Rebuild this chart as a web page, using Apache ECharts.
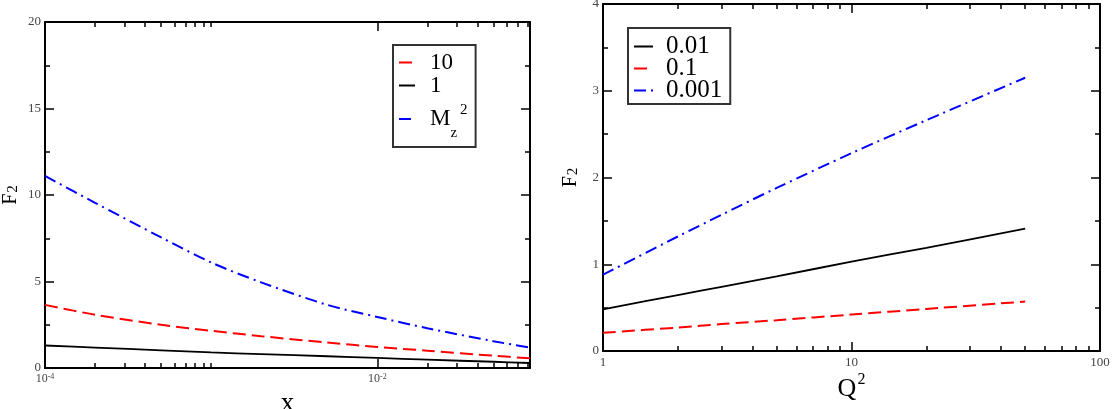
<!DOCTYPE html>
<html>
<head>
<meta charset="utf-8">
<script src="https://cdn.jsdelivr.net/npm/echarts@6/dist/echarts.min.js"></script>
<style>
	html, body { margin:0; padding:0; background:#fff; }
	#chart { width:1113px; height:409px; }
</style>
</head>
<body>
<div id="chart"></div>
<script>
const FONT = 'Liberation Serif';

// left panel: F2 against x, one curve per Q^2
const leftX = [1e-4, 2e-4, 5e-4, 1e-3, 2e-3, 5e-3, 1e-2, 2e-2, 5e-2, 0.083];
const leftQ10 = [3.65, 3.08, 2.5, 2.15, 1.84, 1.47, 1.22, 1.0, 0.71, 0.56];
const leftQ1 = [1.3, 1.18, 1.02, 0.9, 0.8, 0.68, 0.58, 0.48, 0.36, 0.29];
const leftMz = [11.1, 9.55, 7.55, 6.1, 4.95, 3.65, 2.95, 2.3, 1.55, 1.18];
const leftXMajor = [1e-4, 1e-2];
const leftXMajorExp = ['-4', '-2'];
const leftXMinor = [2e-4, 3e-4, 4e-4, 5e-4, 6e-4, 7e-4, 8e-4, 9e-4, 1e-3, 2e-2, 3e-2, 4e-2, 5e-2, 6e-2, 7e-2, 8e-2];

// right panel: F2 against Q^2, one curve per x
const rightQ2 = [1, 2, 3, 5, 10, 20, 50];
const rightX001 = [0.48, 0.645, 0.74, 0.86, 1.03, 1.19, 1.41];
const rightX01 = [0.21, 0.27, 0.31, 0.355, 0.42, 0.485, 0.57];
const rightX0001 = [0.88, 1.32, 1.57, 1.88, 2.28, 2.66, 3.15];
const rightXMajor = [1, 10, 100];
const rightXMinor = [2, 3, 4, 5, 6, 7, 8, 9, 20, 30, 40, 50, 60, 70, 80, 90];

const pairs = (xs, ys) => xs.map((x, i) => [x, ys[i]]);

const lineOn = {show:true, lineStyle:{color:'#000', width:2}};
const tickStyle = {color:'#000', width:1.5};

function logXAxes(gridIndex, min, max, major, minor, label, nameOpt){
	let base = {gridIndex:gridIndex, type:'log', logBase:10, min:min, max:max,
		splitLine:{show:false}, minorSplitLine:{show:false}};
	return [
		Object.assign({}, base, nameOpt, {position:'bottom', axisLine:lineOn, nameMoveOverlap:false,
			axisTick:{show:true, inside:true, length:9, customValues:major, lineStyle:tickStyle},
			axisLabel:label}),
		Object.assign({}, base, {position:'bottom', axisLine:{show:false},
			axisTick:{show:true, inside:true, length:5, customValues:minor, lineStyle:tickStyle},
			axisLabel:{show:false}}),
		Object.assign({}, base, {position:'top', axisLine:lineOn,
			axisTick:{show:true, inside:true, length:9, customValues:major, lineStyle:tickStyle},
			axisLabel:{show:false}}),
		Object.assign({}, base, {position:'top', axisLine:{show:false},
			axisTick:{show:true, inside:true, length:5, customValues:minor, lineStyle:tickStyle},
			axisLabel:{show:false}})
	];
}

function valueYAxes(gridIndex, max, interval, nameGap){
	let base = {gridIndex:gridIndex, type:'value', min:0, max:max, interval:interval,
		axisLine:lineOn, splitLine:{show:false},
		axisTick:{show:true, inside:true, length:9, lineStyle:tickStyle},
		minorTick:{show:true, splitNumber:2, length:5, lineStyle:tickStyle}};
	return [
		Object.assign({}, base, {position:'left', nameMoveOverlap:false,
			axisLabel:{fontFamily:FONT, fontSize:13, color:'#444', margin:4},
			name:'{f|F}{s|2}', nameLocation:'middle', nameRotate:90, nameGap:nameGap,
			nameTextStyle:{rich:{
				f:{fontFamily:FONT, fontSize:20, color:'#000', verticalAlign:'top', lineHeight:20},
				s:{fontFamily:FONT, fontSize:15, color:'#000', verticalAlign:'bottom', lineHeight:15, padding:[12,0,0,1]}
			}}}),
		Object.assign({}, base, {position:'right', axisLabel:{show:false}})
	];
}

const xAxes = [].concat(
	logXAxes(0, 1e-4, 0.083, leftXMajor, leftXMinor, {
		customValues:leftXMajor, margin:5,
		formatter:v => '{b|10}{e|' + leftXMajorExp[leftXMajor.indexOf(v)] + '}',
		rich:{
			b:{fontFamily:FONT, fontSize:12, color:'#444', verticalAlign:'bottom', lineHeight:12},
			e:{fontFamily:FONT, fontSize:8, color:'#444', verticalAlign:'top', lineHeight:8, padding:[0,0,6,0]}
		}
	}, {
		name:'x', nameLocation:'middle', nameGap:22,
		nameTextStyle:{fontFamily:FONT, fontSize:27, color:'#000'}
	}),
	logXAxes(1, 1, 100, rightXMajor, rightXMinor, {
		customValues:rightXMajor, margin:5,
		fontFamily:FONT, fontSize:13, color:'#444'
	}, {
		name:'{q|Q}{s|2}', nameLocation:'middle', nameGap:21,
		nameTextStyle:{rich:{
			q:{fontFamily:FONT, fontSize:26, color:'#000', verticalAlign:'bottom', lineHeight:30, padding:[50,0,0,0]},
			s:{fontFamily:FONT, fontSize:16, color:'#000', verticalAlign:'top', lineHeight:16, padding:[0,0,0,1]}
		}}
	})
);

const yAxes = [].concat(valueYAxes(0, 20, 5, 24), valueYAxes(1, 4, 1, 22));

function lineSeries(name, xi, yi, data, color, type, width){
	return {
		name:name, type:'line', xAxisIndex:xi, yAxisIndex:yi, data:data,
		symbol:'none', showSymbol:false, smooth:0.3, silent:true,
		lineStyle:{color:color, width:width, type:type},
		itemStyle:{color:color}
	};
}

const DASH = [13, 6];
const DASHDOT = [12, 5, 2, 5];

const option = {
	animation:false,
	backgroundColor:'#fff',
	grid:[
		{left:45, top:22, width:485, height:346, outerBoundsMode:'none'},
		{left:603, top:4, width:497, height:347, outerBoundsMode:'none'}
	],
	xAxis:xAxes,
	yAxis:yAxes,
	legend:[
		{
			data:['10', '1', 'Mz'], orient:'vertical', left:393, top:45,
			itemWidth:16, itemHeight:10, itemGap:0,
			padding:[6, 8, 6, 5], borderColor:'#333', borderWidth:2, borderRadius:0,
			selectedMode:false,
			itemStyle:{opacity:0},
			formatter:n => n === 'Mz' ? '{m|M}{z|z}{p|2}' : n,
			textStyle:{fontFamily:FONT, fontSize:23, lineHeight:22, color:'#000', padding:[0, 0, 0, 10],
				rich:{
					m:{fontFamily:FONT, fontSize:23, color:'#000', verticalAlign:'middle', lineHeight:44},
					z:{fontFamily:FONT, fontSize:15, color:'#000', verticalAlign:'bottom', lineHeight:15},
					p:{fontFamily:FONT, fontSize:15, color:'#000', verticalAlign:'top', lineHeight:15, padding:[6, 0, 0, 3]}
				}}
		},
		{
			data:['0.01', '0.1', '0.001'], orient:'vertical', left:628, top:28,
			itemWidth:19, itemHeight:10, itemGap:-3,
			padding:[6, 8, 1, 5], borderColor:'#333', borderWidth:2, borderRadius:0,
			selectedMode:false,
			itemStyle:{opacity:0},
			textStyle:{fontFamily:FONT, fontSize:25, lineHeight:22, color:'#000', padding:[0, 0, 0, 8]}
		}
	],
	series:[
		lineSeries('10', 0, 0, pairs(leftX, leftQ10), '#ff0000', DASH, 2),
		lineSeries('1', 0, 0, pairs(leftX, leftQ1), '#000000', 'solid', 1.8),
		lineSeries('Mz', 0, 0, pairs(leftX, leftMz), '#0000ff', DASHDOT, 2),
		lineSeries('0.01', 4, 2, pairs(rightQ2, rightX001), '#000000', 'solid', 1.8),
		lineSeries('0.1', 4, 2, pairs(rightQ2, rightX01), '#ff0000', DASH, 2),
		lineSeries('0.001', 4, 2, pairs(rightQ2, rightX0001), '#0000ff', DASHDOT, 2)
	]
};

const chart = echarts.init(document.getElementById('chart'), null, {renderer:'canvas'});
chart.setOption(option);
</script>
</body>
</html>
